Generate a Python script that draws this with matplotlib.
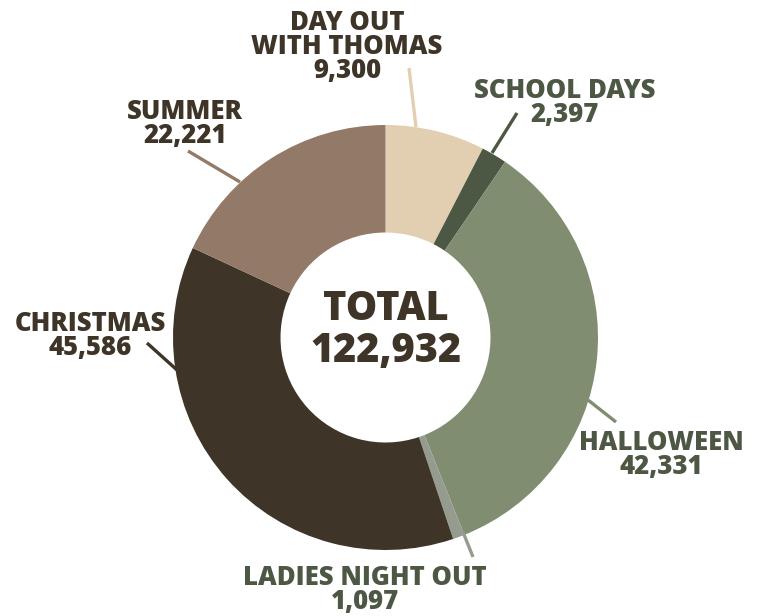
import matplotlib.pyplot as plt

categories = ["DAY OUT\nWITH THOMAS", "SCHOOL DAYS", "HALLOWEEN", "LADIES NIGHT OUT", "CHRISTMAS", "SUMMER"]
values = [9300, 2397, 42331, 1097, 45586, 22221]
colors = ["#E2CFB2", "#4C5744", "#808D70", "#959B8E", "#3E3428", "#937A68"]
text_colors = ["#3E3428", "#4C5744", "#4C5744", "#4C5744", "#3E3428", "#3E3428"]

W, H = 761, 616
# label layout in image pixel coords (x, y from top)
label_pos = [(347, 47), (565, 103), (661, 455), (365, 590), (90, 336), (185, 124)]
leader = [((416, 127), (409, 68)), ((492, 153), (517, 113)), ((588, 400), (616, 422)),
          ((463, 532), (473, 557)), ((177, 370), (147, 343)), ((240, 182), (188, 151))]

plt.rcParams['font.family'] = ['Open Sans', 'DejaVu Sans']
fig = plt.figure(figsize=(W / 100, H / 100), dpi=100)
ax = fig.add_axes([0, 0, 1, 1])

cx, cy = 385.5, H - 337.5
R, r = 212.5, 105
ax.pie(values, colors=colors, startangle=90, counterclock=False, radius=R,
       center=(cx, cy), wedgeprops=dict(width=R - r, linewidth=0), frame=True)

total = sum(values)
ax.text(cx, H - 309, "TOTAL", ha='center', va='center', fontsize=28.5, fontweight=800, color="#3E3428")
ax.text(cx, H - 351, f"{total:,}", ha='center', va='center', fontsize=28.5, fontweight=800, color="#3E3428")

for cat, v, tc, lc, (lx, ly), (p0, p1) in zip(categories, values, text_colors, colors, label_pos, leader):
    ax.text(lx, H - ly, f"{cat}\n{v:,}", ha='center', va='center', fontsize=18.5, fontweight=800,
            color=tc, linespacing=0.92)
    ax.plot([p0[0], p1[0]], [H - p0[1], H - p1[1]], color=lc, lw=2.4, solid_capstyle='butt')

ax.set_xlim(0, W)
ax.set_ylim(0, H)
ax.set_aspect('auto')
ax.axis('off')
fig.savefig("out.png", dpi=100)
